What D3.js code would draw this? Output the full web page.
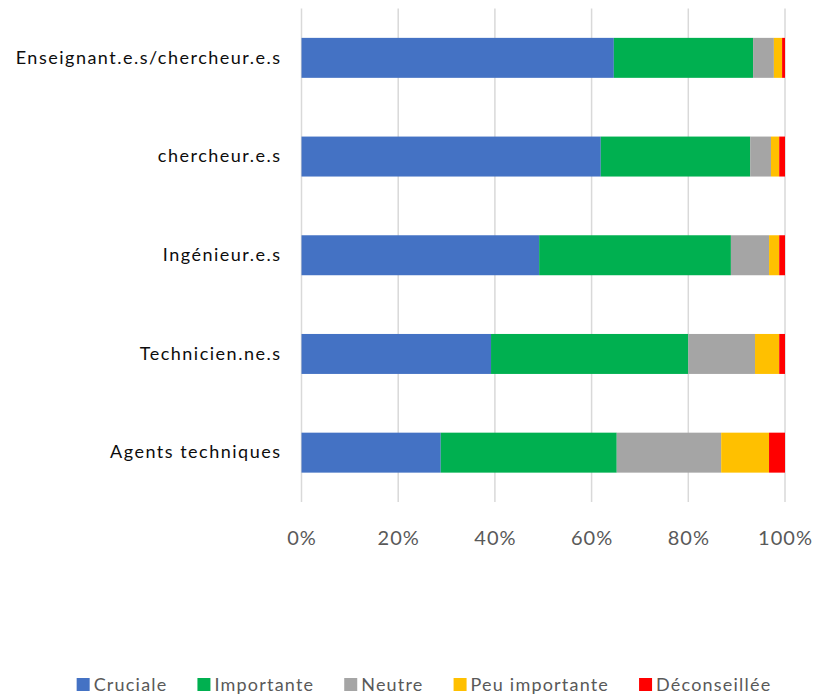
<!DOCTYPE html>
<html><head><meta charset="utf-8">
<script src="https://cdn.jsdelivr.net/npm/d3@7"></script>
<style>body{margin:0;background:#fff}</style>
</head><body>
<script>
const categories = ["Enseignant.e.s/chercheur.e.s","chercheur.e.s","Ingénieur.e.s","Technicien.ne.s","Agents techniques"];
const seriesNames = ["Cruciale","Importante","Neutre","Peu importante","Déconseillée"];
const colors = ["#4472C4","#00B050","#A5A5A5","#FFC000","#FF0000"];
const cruciale     = [64.6, 61.9, 49.2, 39.2, 28.8];
const importante   = [28.8, 30.9, 39.7, 40.8, 36.4];
const neutre       = [4.3, 4.3, 7.9, 13.8, 21.6];
const peuImportante= [1.7, 1.7, 2.1, 5.0, 9.9];
const deconseillee = [0.6, 1.2, 1.2, 1.2, 3.3];
const tickValues = [0, 0.2, 0.4, 0.6, 0.8, 1.0];

const W = 818, H = 696;
const svg = d3.select("body").append("svg").attr("width", W).attr("height", H);
const font = "Lato, 'Open Sans', sans-serif";

const rows = categories.map((c, i) => {
  const vals = [cruciale[i], importante[i], neutre[i], peuImportante[i], deconseillee[i]];
  const tot = d3.sum(vals);
  const o = {cat: c};
  seriesNames.forEach((s, j) => o[s] = vals[j] / tot);
  return o;
});
const stacked = d3.stack().keys(seriesNames)(rows);

const x = d3.scaleLinear().domain([0, 1]).range([301.5, 785]);
const y = d3.scaleBand().domain(categories).range([8.5, 502]).paddingInner(0.595).paddingOuter(0.2975);

// gridlines
svg.append("g").selectAll("line").data(tickValues).join("line")
  .attr("x1", d => x(d)).attr("x2", d => x(d))
  .attr("y1", 8.5).attr("y2", 502)
  .attr("stroke", "#d9d9d9").attr("stroke-width", 1.5);

// bars
svg.append("g").selectAll("g").data(stacked).join("g")
  .attr("fill", (d, i) => colors[i])
  .selectAll("rect").data(d => d).join("rect")
  .attr("x", d => x(d[0])).attr("width", d => x(d[1]) - x(d[0]))
  .attr("y", d => y(d.data.cat)).attr("height", y.bandwidth());

// x axis
const xAxis = d3.axisBottom(x).tickValues(tickValues).tickFormat(d3.format(".0%")).tickSize(0).tickPadding(0);
const gx = svg.append("g").attr("transform", "translate(0,531)").call(xAxis);
gx.select(".domain").remove();
gx.selectAll("text").attr("fill", "#595959").style("font-family", font).style("font-size", "20px")
  .style("letter-spacing", "1px").attr("dy", "0.71em");

// y axis
const yAxis = d3.axisLeft(y).tickSize(0).tickPadding(0);
const gy = svg.append("g").attr("transform", "translate(281.5,0)").call(yAxis);
gy.select(".domain").remove();
gy.selectAll("text").attr("fill", "#0d0d0d").style("font-family", font).style("font-size", "18px")
  .style("letter-spacing", "1.5px");

// legend
const leg = svg.append("g").attr("transform", "translate(0,678)");
const items = leg.selectAll("g").data(seriesNames).join("g");
items.append("rect").attr("width", 13).attr("height", 13).attr("fill", (d, i) => colors[i]);
items.append("text").attr("x", 17).attr("y", 6.5).attr("dy", "0.35em")
  .attr("fill", "#595959").style("font-family", font).style("font-size", "18px")
  .style("letter-spacing", "1.2px").text(d => d);
let cx = 0; const pos = [];
const gap = 30;
items.each(function() { const w = this.getBBox().width; pos.push(cx); cx += w + gap; });
const total = cx - gap; const start = 424 - total / 2;
items.attr("transform", (d, i) => `translate(${start + pos[i]},0)`);
</script>
</body></html>
